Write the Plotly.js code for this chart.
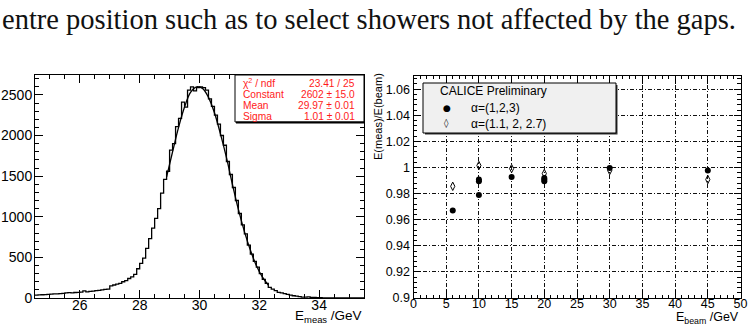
<!DOCTYPE html>
<html>
<head>
<meta charset="utf-8">
<script src="https://cdn.plot.ly/plotly-3.0.1.min.js"></script>
<style>html,body{margin:0;padding:0;background:#fff;}#chart{width:748px;height:324px;}</style>
</head>
<body>
<div id="chart"></div>
<script>
// ---- Left panel: histogram of measured energy (30 GeV beam) ----
const binStart = 24.5;
const binWidth = 0.1;
const counts = [
  35, 38, 40, 42, 45,
  48, 50, 50, 55, 58,
  62, 65, 63, 68, 70,
  72, 88, 75, 82, 85,
  92, 95, 100, 105, 110,
  150, 160, 170, 180, 200,
  215, 240, 260, 290, 360,
  425, 490, 610, 730, 860,
  980, 1100, 1290, 1460, 1560,
  1820, 1900, 2110, 2210, 2410,
  2350, 2560, 2600, 2550, 2590,
  2600, 2590, 2560, 2450, 2360,
  2250, 2140, 2000, 1880, 1680,
  1520, 1360, 1200, 1040, 900,
  790, 650, 540, 450, 380,
  300, 230, 180, 130, 110,
  90, 70, 62, 55, 45,
  35, 28, 22, 16, 12,
  10, 14, 8, 6, 5,
  3, 2, 2, 1, 1,
  0, 1, 0, 0, 0,
  0, 0, 0, 0, 0
];
// Gaussian fit curve
const fitX = [28.9, 29.1, 29.3, 29.5, 29.7, 29.9, 30.1, 30.3, 30.5, 30.7, 30.9, 31.1, 31.3, 31.5, 31.7, 31.9, 32.1, 32.3];
const fitY = [1490, 1800, 2100, 2350, 2530, 2600, 2580, 2470, 2280, 2020, 1730, 1400, 1090, 820, 590, 400, 260, 160];
const statLabels = ["\u03c7<sup>2</sup> / ndf", "Constant", "Mean", "Sigma"];
const statValues = ["23.41 / 25", "2602 \u00b1 15.0", "29.97 \u00b1 0.01", "1.01 \u00b1 0.01"];

// ---- Right panel: E(meas)/E(beam) vs beam energy ----
const beamA = [6, 10, 10, 10, 15, 20, 20, 20, 30, 45];
const ratioA = [0.967, 0.9908, 0.9895, 0.979, 0.9928, 0.992, 0.9908, 0.9895, 0.9997, 0.9977];
const beamB = [6, 10, 15, 20, 30, 45];
const ratioB = [0.9856, 1.0015, 0.9992, 0.9954, 0.9977, 0.9908];
const legendTitle = "CALICE Preliminary";
const seriesNames = ["\u03b1=(1,2,3)", "\u03b1=(1.1, 2, 2.7)"];

const W = 748, H = 324;
const px = x => x / W;
const py = y => 1 - y / H;

const histX = counts.map((_, i) => binStart + i * binWidth);
histX.push(binStart + counts.length * binWidth);
const histY = counts.slice();
histY.push(counts[counts.length - 1]);

const font = "Liberation Sans, Arial, Helvetica, sans-serif";
const gridDash = "4px,2px,1px,2px";

const traces = [
  {x: histX, y: histY, type: 'scatter', mode: 'lines', line: {shape: 'hv', color: '#000', width: 1.3}, xaxis: 'x', yaxis: 'y', hoverinfo: 'skip'},
  {x: fitX, y: fitY, type: 'scatter', mode: 'lines', line: {shape: 'spline', color: '#000', width: 1.3}, xaxis: 'x', yaxis: 'y', hoverinfo: 'skip'},
  {x: beamB, y: ratioB, type: 'scatter', mode: 'markers', marker: {symbol: 'diamond-tall-open', size: 6, color: '#000', line: {width: 1, color: '#000'}}, xaxis: 'x2', yaxis: 'y2', name: seriesNames[1]},
  {x: beamA, y: ratioA, type: 'scatter', mode: 'markers', marker: {symbol: 'circle', size: 6, color: '#000'}, xaxis: 'x2', yaxis: 'y2', name: seriesNames[0]}
];

const axBase = {
  showline: true, linecolor: '#000', linewidth: 1, mirror: 'ticks',
  ticks: 'inside', tickcolor: '#000', tickwidth: 1,
  zeroline: false, showgrid: false, fixedrange: true
};

const layout = {
  width: W, height: H,
  margin: {l: 0, r: 0, t: 0, b: 0},
  paper_bgcolor: '#fff', plot_bgcolor: '#fff',
  showlegend: false,
  font: {family: font, color: '#000'},
  xaxis: Object.assign({}, axBase, {
    domain: [px(35), px(364)], range: [24.5, 35.5], anchor: 'y',
    tick0: 0, dtick: 2, ticklen: 8, tickfont: {size: 14, family: font}, ticklabelstandoff: -6,
    minor: {dtick: 0.5, ticklen: 4, ticks: 'inside', tickcolor: '#000'}
  }),
  yaxis: Object.assign({}, axBase, {
    domain: [py(298), py(75)], range: [0, 2745], anchor: 'x',
    tick0: 0, dtick: 500, ticklen: 8, tickfont: {size: 14, family: font}, ticklabelstandoff: -1,
    minor: {dtick: 100, ticklen: 4, ticks: 'inside', tickcolor: '#000'}
  }),
  xaxis2: Object.assign({}, axBase, {
    domain: [px(413.5), px(740.5)], range: [0, 50], anchor: 'y2',
    tick0: 0, dtick: 5, ticklen: 8, tickfont: {size: 12.5, family: font}, ticklabelstandoff: -6,
    showgrid: true, gridcolor: '#111', gridwidth: 1, griddash: gridDash,
    minor: {dtick: 1, ticklen: 3.5, ticks: 'inside', tickcolor: '#000'}
  }),
  yaxis2: Object.assign({}, axBase, {
    domain: [py(298), py(75.5)], range: [0.9, 1.0705], anchor: 'x2',
    tick0: 0.9, dtick: 0.02, ticklen: 7, tickfont: {size: 12.5, family: font},
    showgrid: true, gridcolor: '#111', gridwidth: 1, griddash: gridDash,
    minor: {dtick: 0.004, ticklen: 3.5, ticks: 'inside', tickcolor: '#000'}
  }),
  shapes: [
    // stats box
    {type: 'rect', xref: 'paper', yref: 'paper', x0: px(235), x1: px(364), y0: py(122), y1: py(75), fillcolor: '#fff', line: {color: '#000', width: 1}},
    {type: 'line', xref: 'paper', yref: 'paper', x0: px(236), x1: px(364), y0: py(122.5), y1: py(122.5), line: {color: '#000', width: 2}},
    // legend box shadow + box
    {type: 'rect', xref: 'paper', yref: 'paper', x0: px(425), x1: px(617.5), y0: py(134.5), y1: py(85), fillcolor: '#333', line: {width: 0}},
    {type: 'rect', xref: 'paper', yref: 'paper', x0: px(423), x1: px(616), y0: py(133), y1: py(83), fillcolor: '#f0f0f0', line: {color: '#000', width: 1}}
  ],
  annotations: []
};

const ann = layout.annotations;
// top sentence from the page
ann.push({xref: 'paper', yref: 'paper', x: px(0), y: py(19), xanchor: 'left', yanchor: 'middle', showarrow: false,
  text: 'entre position such as to select showers not affected by the gaps.',
  font: {family: 'Liberation Serif, DejaVu Serif, serif', size: 28.5, color: '#111'}});
// stats text
const statYs = [83.5, 94.5, 105.5, 116];
statLabels.forEach((t, i) => {
  ann.push({xref: 'paper', yref: 'paper', x: px(241), y: py(statYs[i]), xanchor: 'left', yanchor: 'middle', showarrow: false,
    text: t, font: {family: font, size: 10.2, color: '#ff1a1a'}});
  ann.push({xref: 'paper', yref: 'paper', x: px(357), y: py(statYs[i]), xanchor: 'right', yanchor: 'middle', showarrow: false,
    text: statValues[i], font: {family: font, size: 10.2, color: '#ff1a1a'}});
});
// axis titles
ann.push({xref: 'paper', yref: 'paper', x: px(364), y: py(316.5), xanchor: 'right', yanchor: 'middle', showarrow: false,
  text: 'E<sub>meas</sub> /GeV', font: {family: font, size: 13.5}});
ann.push({xref: 'paper', yref: 'paper', x: px(741), y: py(317.5), xanchor: 'right', yanchor: 'middle', showarrow: false,
  text: 'E<sub>beam</sub> /GeV', font: {family: font, size: 12.5}});
ann.push({xref: 'paper', yref: 'paper', x: px(378), y: py(117), xanchor: 'center', yanchor: 'middle', showarrow: false, textangle: -90,
  text: 'E(meas)/E(beam)', font: {family: font, size: 11}});
// legend contents
ann.push({xref: 'paper', yref: 'paper', x: px(438), y: py(91), xanchor: 'left', yanchor: 'middle', showarrow: false,
  text: legendTitle, font: {family: font, size: 12}});
ann.push({xref: 'paper', yref: 'paper', x: px(447), y: py(108), xanchor: 'center', yanchor: 'middle', showarrow: false,
  text: '\u25cf', font: {family: 'DejaVu Sans', size: 9}});
ann.push({xref: 'paper', yref: 'paper', x: px(447), y: py(124), xanchor: 'center', yanchor: 'middle', showarrow: false,
  text: '\u25ca', font: {family: 'DejaVu Sans', size: 9}});
ann.push({xref: 'paper', yref: 'paper', x: px(469), y: py(108), xanchor: 'left', yanchor: 'middle', showarrow: false,
  text: seriesNames[0], font: {family: font, size: 12}});
ann.push({xref: 'paper', yref: 'paper', x: px(469), y: py(124), xanchor: 'left', yanchor: 'middle', showarrow: false,
  text: seriesNames[1], font: {family: font, size: 12}});

Plotly.newPlot('chart', traces, layout, {staticPlot: true, displayModeBar: false});
</script>
</body>
</html>
